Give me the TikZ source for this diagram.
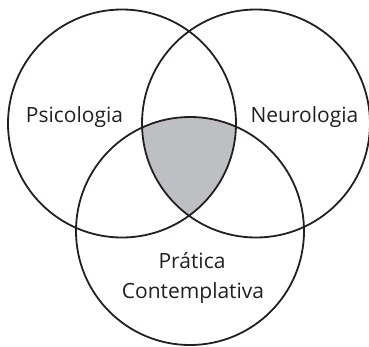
\documentclass[tikz,border=0pt]{standalone}
\usepackage{fontspec}
\setmainfont{Open Sans}
\definecolor{ink}{RGB}{35,31,32}
\definecolor{venngray}{RGB}{190,191,194}
\tikzset{
	venn/.style = {draw = ink, line width = 1.8pt},
	vennlabel/.style = {anchor = base, text = ink, font = \fontsize{21}{30}\selectfont}
}
\begin{document}
\begin{tikzpicture}[x=1pt, y=-1pt]
\useasboundingbox (0,0) rectangle (369,346);
\coordinate (psi) at (122,123.5);
\coordinate (neu) at (256,123.5);
\coordinate (pra) at (190,231);
% common part of all three
\begin{scope}
\clip (psi) circle (114pt);
\clip (neu) circle (114pt);
\fill[venngray] (pra) circle (114pt);
\end{scope}
\foreach \c in {psi, neu, pra}
	\draw[venn] (\c) circle (114pt);
\node[vennlabel] (psicologia) at (74.5,122.3) {Psicologia};
\node[vennlabel] (neurologia) at (304.5,122.3) {Neurologia};
\node[vennlabel] (pratica) at (192,268.3) {Prática};
\node[vennlabel] (contemplativa) at (193,298) {Contemplativa};
\end{tikzpicture}
\end{document}
